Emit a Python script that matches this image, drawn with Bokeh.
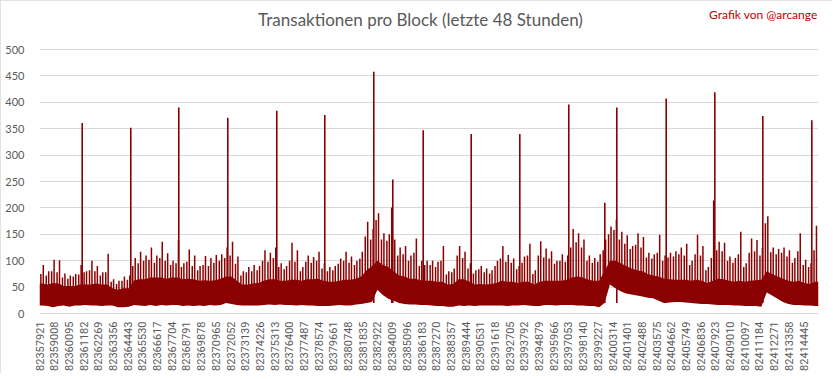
import numpy as np
from bokeh.plotting import figure
from bokeh.models import Range1d, FixedTicker, Label
from bokeh.embed import file_html
from bokeh.resources import INLINE

# ---------------- data ----------------
title_text = "Transaktionen pro Block (letzte 48 Stunden)"
credit_text = "Grafik von @arcange"

first_block = 82357921
last_block = 82415551
bin_size = 400  # blocks per bin (20 minutes)

y_ticks = [0, 50, 100, 150, 200, 250, 300, 350, 400, 450, 500]
tick_blocks = [
    82357921, 82359008, 82360095, 82361182, 82362269, 82363356, 82364443, 82365530,
    82366617, 82367704, 82368791, 82369878, 82370965, 82372052, 82373139, 82374226,
    82375313, 82376400, 82377487, 82378574, 82379661, 82380748, 82381835, 82382922,
    82384009, 82385096, 82386183, 82387270, 82388357, 82389444, 82390531, 82391618,
    82392705, 82393792, 82394879, 82395966, 82397053, 82398140, 82399227, 82400314,
    82401401, 82402488, 82403575, 82404662, 82405749, 82406836, 82407923, 82409010,
    82410097, 82411184, 82412271, 82413358, 82414445,
]

# lower envelope per bin (minimum transactions)
bin_low = [
    15, 14, 12, 14, 15, 13, 15, 15, 16, 15, 15, 14, 15, 15, 12, 12, 13, 16, 15, 14, 16, 14, 16, 15,
    16, 16, 14, 15, 14, 15, 14, 16, 15, 16, 20, 18, 16, 15, 15, 15, 15, 16, 17, 16, 17, 16, 16, 15,
    16, 15, 15, 14, 14, 14, 15, 16, 15, 15, 17, 18, 20, 22, 45, 35, 28, 24, 20, 18, 17, 17, 16, 16,
    15, 14, 14, 13, 13, 15, 14, 15, 14, 15, 15, 15, 15, 15, 14, 15, 15, 16, 15, 14, 14, 16, 16, 15,
    16, 16, 16, 15, 15, 14, 14, 12, 20, 55, 48, 42, 38, 36, 34, 32, 30, 29, 24, 20, 21, 22, 22, 21,
    20, 19, 18, 18, 17, 16, 16, 16, 15, 15, 14, 14, 14, 13, 40, 34, 28, 22, 18, 16, 16, 15, 15, 14,
]
# typical upper level of the dense band per bin
bin_core = [
    57, 55, 58, 57, 52, 52, 52, 55, 55, 55, 57, 55, 55, 48, 45, 48, 48, 63, 65, 65, 68, 68, 68, 66,
    68, 68, 65, 66, 65, 62, 63, 62, 63, 66, 70, 70, 62, 55, 55, 57, 58, 62, 65, 65, 62, 62, 64, 64,
    62, 65, 65, 66, 62, 60, 60, 62, 64, 64, 66, 70, 82, 90, 100, 92, 88, 80, 72, 70, 66, 66, 63, 62,
    62, 60, 60, 55, 56, 65, 65, 60, 55, 56, 55, 56, 58, 62, 60, 60, 58, 60, 60, 55, 60, 62, 62, 62,
    62, 64, 68, 70, 68, 64, 62, 62, 80, 100, 100, 95, 90, 85, 82, 80, 75, 72, 70, 66, 65, 64, 64, 64,
    62, 64, 62, 58, 62, 66, 65, 62, 60, 62, 60, 62, 63, 64, 80, 75, 70, 66, 62, 60, 62, 58, 56, 60,
]
# highest ordinary block per bin
bin_peak = [
    92, 80, 102, 101, 76, 72, 75, 92, 80, 100, 90, 78, 113, 65, 62, 70, 72, 105, 117, 110, 125, 110, 136, 114,
    100, 139, 95, 121, 110, 90, 109, 105, 111, 112, 125, 136, 108, 80, 88, 92, 90, 120, 115, 125, 95, 90, 134, 120,
    88, 110, 107, 117, 95, 88, 90, 104, 117, 108, 100, 117, 174, 160, 190, 152, 150, 140, 125, 128, 110, 142, 100, 100,
    100, 98, 128, 80, 85, 128, 117, 95, 82, 90, 85, 82, 100, 128, 111, 104, 90, 108, 132, 82, 137, 123, 118, 100,
    112, 110, 160, 152, 140, 110, 105, 112, 140, 165, 178, 155, 148, 128, 152, 145, 115, 112, 149, 110, 115, 118, 125, 132,
    100, 149, 128, 88, 123, 136, 134, 108, 105, 155, 95, 142, 139, 124, 184, 125, 122, 125, 120, 105, 152, 102, 95, 166,
]
# second highest block per bin
bin_peak2 = [
    75, 72, 80, 78, 68, 66, 70, 74, 78, 82, 80, 72, 78, 60, 56, 62, 64, 90, 95, 100, 102, 96, 105, 100,
    92, 95, 88, 98, 90, 82, 92, 90, 96, 100, 105, 110, 94, 72, 78, 80, 82, 100, 98, 105, 88, 84, 100, 98,
    80, 98, 96, 100, 85, 80, 82, 94, 100, 96, 92, 104, 146, 140, 177, 140, 138, 125, 110, 112, 100, 115, 90, 92,
    92, 88, 100, 74, 78, 110, 105, 85, 76, 84, 78, 76, 90, 104, 98, 96, 84, 96, 110, 75, 110, 106, 104, 94,
    100, 98, 125, 135, 125, 100, 96, 98, 120, 150, 158, 140, 132, 122, 130, 125, 106, 104, 115, 100, 106, 108, 112, 110,
    92, 112, 110, 82, 105, 120, 118, 100, 96, 112, 88, 115, 118, 110, 171, 116, 112, 115, 108, 96, 118, 92, 88, 120,
]

# single outlier blocks (large spikes)
spike_blocks = [
    82361080, 82364675, 82368226, 82371851, 82375476, 82379027, 82382652, 82383984,
    82384058, 82386307, 82389858, 82393454, 82397078, 82399742, 82400630, 82404284,
    82407800, 82407880, 82411431, 82415056,
]
spike_values = [
    361, 352, 390, 371, 384, 376, 458, 201,
    254, 347, 340, 340, 396, 210, 390, 407,
    214, 419, 374, 366,
]

# ---------------- figure ----------------
RED = "#8B0000"
GREY_TEXT = "#595959"
GRID = "#D9D9D9"

# the frame reaches the top of the canvas so that the heading texts can sit inside it
Y_TOP = 577.7

p = figure(
    frame_width=779, frame_height=305,
    output_backend="svg", toolbar_location=None,
    x_range=Range1d(first_block, last_block),
    y_range=Range1d(0, Y_TOP),
    min_border_left=39, min_border_right=14, min_border_top=8, min_border_bottom=0,
)
p.styles = {"outline": "1px solid #D9D9D9", "outline-offset": "-1px"}
p.outline_line_color = None
p.background_fill_color = "white"
p.border_fill_color = "white"

n = len(bin_low)
starts = first_block + bin_size * np.arange(n)
centers = starts + 0.5 * bin_size
xa = np.concatenate([[first_block], centers, [last_block]])
lo = np.concatenate([[bin_low[0]], bin_low, [bin_low[-1]]])
co = np.concatenate([[bin_core[0]], bin_core, [bin_core[-1]]])

p.varea(x=xa, y1=lo, y2=co, fill_color=RED)
p.segment(x0=starts + 0.25 * bin_size, y0=np.array(bin_core) - 10,
          x1=starts + 0.25 * bin_size, y1=bin_peak2, line_color=RED, line_width=1.5)
p.segment(x0=starts + 0.7 * bin_size, y0=np.array(bin_core) - 10,
          x1=starts + 0.7 * bin_size, y1=bin_peak, line_color=RED, line_width=1.5)
p.segment(x0=spike_blocks, y0=[20] * len(spike_blocks), x1=spike_blocks, y1=spike_values,
          line_color=RED, line_width=1.6)

# axes
p.yaxis.ticker = FixedTicker(ticks=y_ticks)
p.yaxis.axis_line_color = None
p.yaxis.major_tick_line_color = None
p.yaxis.minor_tick_line_color = None
p.yaxis.major_label_text_font = "Lato"
p.yaxis.major_label_text_font_size = "11px"
p.yaxis.major_label_text_color = GREY_TEXT
p.yaxis.major_label_standoff = 9

p.xaxis.ticker = FixedTicker(ticks=tick_blocks)
p.xaxis.major_label_overrides = {b: str(b) for b in tick_blocks}
p.xaxis.major_label_orientation = np.pi / 2
p.xaxis.axis_line_color = GRID
p.xaxis.major_tick_line_color = None
p.xaxis.minor_tick_line_color = None
p.xaxis.major_tick_out = 0
p.xaxis.major_tick_in = 0
p.xaxis.major_label_text_font = "Roboto"
p.xaxis.major_label_text_font_size = "11px"
p.xaxis.major_label_text_color = GREY_TEXT
p.xaxis.major_label_standoff = 8

p.xgrid.grid_line_color = None
p.ygrid.grid_line_color = GRID
p.ygrid.grid_line_width = 1

# heading texts, in the empty band above the 500 gridline
p.add_layout(Label(x=82386107, y=556, text=title_text,
                   text_align="center", text_baseline="middle",
                   text_font="Lato", text_font_size="17px", text_color=GREY_TEXT))
p.add_layout(Label(x=82415480, y=566, text=credit_text,
                   text_align="right", text_baseline="middle",
                   text_font="Lato", text_font_size="12px", text_color="#C00000"))

open("out.html", "w").write(file_html(p, INLINE))
